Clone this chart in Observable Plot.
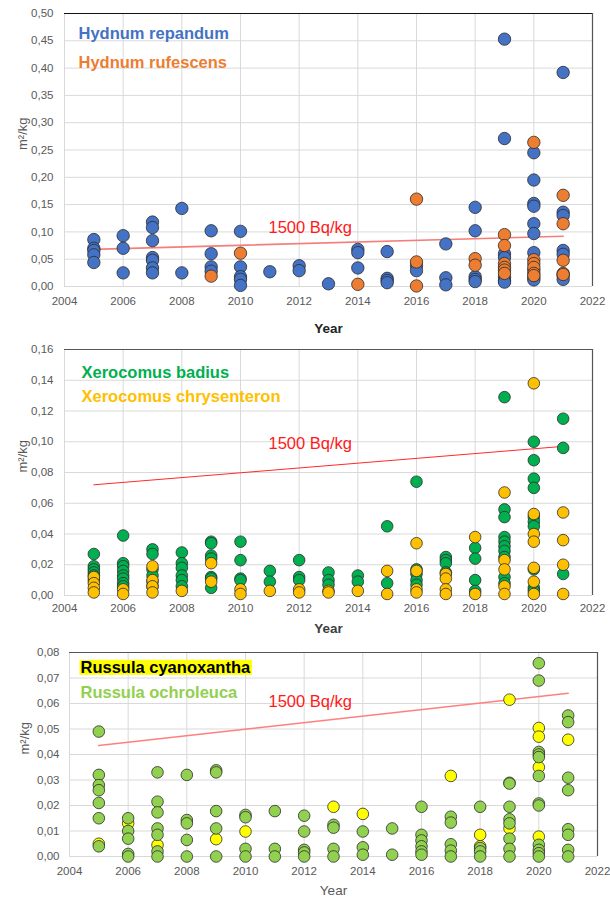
<!DOCTYPE html>
<html>
<head>
<meta charset="utf-8">
<script src="https://cdn.jsdelivr.net/npm/d3@7"></script>
<script src="https://cdn.jsdelivr.net/npm/@observablehq/plot@0.6"></script>
<style>
  html, body { margin: 0; padding: 0; background: #fff; }
  #chart svg { display: block; }
</style>
</head>
<body>
<div id="chart"></div>
<script>
// ---------- DATA ----------
const yearTicks = [2004, 2006, 2008, 2010, 2012, 2014, 2016, 2018, 2020, 2022];
const refYears = [2005, 2021];

// Panel 1: Hydnum
const hydnumRepandum = [
  [2005, [0.086, 0.070, 0.066, 0.058, 0.044]],
  [2006, [0.093, 0.070, 0.025]],
  [2007, [0.118, 0.108, 0.084, 0.053, 0.048, 0.034, 0.025]],
  [2008, [0.143, 0.025]],
  [2009, [0.102, 0.060, 0.036, 0.028]],
  [2010, [0.101, 0.036, 0.018, 0.013, 0.002]],
  [2011, [0.027]],
  [2012, [0.038, 0.029]],
  [2013, [0.005]],
  [2014, [0.068, 0.062, 0.034]],
  [2015, [0.064, 0.015, 0.011, 0.007]],
  [2016, [0.038, 0.029]],
  [2017, [0.078, 0.016, 0.003]],
  [2018, [0.145, 0.102, 0.018, 0.013, 0.009]],
  [2019, [0.453, 0.271, 0.060, 0.053, 0.017, 0.011, 0.008]],
  [2020, [0.245, 0.195, 0.152, 0.147, 0.115, 0.097, 0.062, 0.030, 0.016, 0.012]],
  [2021, [0.392, 0.136, 0.130, 0.066, 0.059, 0.020, 0.013]]
];
const hydnumRufescens = [
  [2009, [0.019]],
  [2010, [0.061]],
  [2014, [0.004]],
  [2016, [0.160, 0.045, 0.001]],
  [2018, [0.051, 0.039]],
  [2019, [0.095, 0.075, 0.042, 0.035, 0.030, 0.024]],
  [2020, [0.264, 0.049, 0.042, 0.035, 0.024, 0.020]],
  [2021, [0.167, 0.115, 0.048, 0.024, 0.022]]
];
const hydnumRef = [0.068, 0.092];

// Panel 2: Xerocomus
const xerocomusBadius = [
  [2005, [0.027, 0.019, 0.017, 0.015, 0.013, 0.010]],
  [2006, [0.039, 0.021, 0.019, 0.016, 0.013, 0.011, 0.008, 0.006]],
  [2007, [0.030, 0.027, 0.017, 0.013, 0.009, 0.006]],
  [2008, [0.028, 0.021, 0.018, 0.013, 0.010, 0.006]],
  [2009, [0.035, 0.034, 0.026, 0.024, 0.012, 0.011, 0.005]],
  [2010, [0.035, 0.023, 0.011, 0.010]],
  [2011, [0.016, 0.009]],
  [2012, [0.023, 0.012, 0.010]],
  [2013, [0.015, 0.010, 0.007]],
  [2014, [0.013, 0.009]],
  [2015, [0.045, 0.008]],
  [2016, [0.074, 0.017, 0.014, 0.010, 0.007]],
  [2017, [0.025, 0.023, 0.021, 0.015]],
  [2018, [0.031, 0.024, 0.010, 0.003]],
  [2019, [0.129, 0.056, 0.051, 0.038, 0.035, 0.032, 0.029, 0.025, 0.012, 0.008]],
  [2020, [0.100, 0.088, 0.076, 0.070, 0.051, 0.048, 0.045, 0.017, 0.005, 0.003]],
  [2021, [0.115, 0.096, 0.014]]
];
const xerocomusChrysenteron = [
  [2005, [0.012, 0.008, 0.005, 0.002]],
  [2006, [0.004, 0.001]],
  [2007, [0.019, 0.010, 0.006, 0.002]],
  [2008, [0.003]],
  [2009, [0.021, 0.009]],
  [2010, [0.004, 0.001]],
  [2011, [0.003]],
  [2012, [0.004, 0.002]],
  [2013, [0.003, 0.002]],
  [2014, [0.003]],
  [2015, [0.016, 0.001]],
  [2016, [0.034, 0.016, 0.004, 0.002]],
  [2017, [0.014, 0.011, 0.004, 0.001]],
  [2018, [0.038, 0.001]],
  [2019, [0.067, 0.023, 0.017, 0.006, 0.001]],
  [2020, [0.138, 0.053, 0.040, 0.035, 0.018, 0.009, 0.001]],
  [2021, [0.054, 0.036, 0.020, 0.001]]
];
const xerocomusRef = [0.072, 0.097];

// Panel 3: Russula
const russulaCyanoxantha = [
  [2005, [0.005]],
  [2006, [0.013]],
  [2007, [0.0045]],
  [2009, [0.0068]],
  [2010, [0.0098]],
  [2013, [0.0195]],
  [2014, [0.0167]],
  [2017, [0.0316]],
  [2018, [0.0085, 0.004]],
  [2019, [0.0615, 0.011]],
  [2020, [0.0504, 0.047, 0.035, 0.0078]],
  [2021, [0.0458]]
];
const russulaOchroleuca = [
  [2005, [0.049, 0.032, 0.028, 0.026, 0.021, 0.015, 0.004]],
  [2006, [0.015, 0.010, 0.007, 0.001, 0.000]],
  [2007, [0.033, 0.0215, 0.0173, 0.011, 0.0085, 0.002, 0.000]],
  [2008, [0.032, 0.0143, 0.013, 0.0065, 0.000]],
  [2009, [0.0338, 0.033, 0.0178, 0.011, 0.000]],
  [2010, [0.0163, 0.0154, 0.003, 0.000]],
  [2011, [0.0178, 0.003, 0.000]],
  [2012, [0.016, 0.0098, 0.0026, 0.0016, 0.000]],
  [2013, [0.0124, 0.0113, 0.003, 0.000]],
  [2014, [0.0098, 0.0036, 0.0007]],
  [2015, [0.011, 0.0007]],
  [2016, [0.0195, 0.0085, 0.0063, 0.004, 0.002, 0.0007]],
  [2017, [0.0156, 0.0133, 0.0048, 0.0023, 0.000]],
  [2018, [0.0195, 0.0033, 0.002, 0.000]],
  [2019, [0.0289, 0.0286, 0.0195, 0.0146, 0.013, 0.007, 0.003, 0.000]],
  [2020, [0.0758, 0.069, 0.041, 0.040, 0.039, 0.0316, 0.0208, 0.020, 0.0046, 0.0026, 0.0013, 0.000]],
  [2021, [0.0553, 0.0527, 0.0309, 0.026, 0.0107, 0.0085, 0.0026, 0.000]]
];
const russulaRef = [0.0435, 0.064];

const refLabel = "1500 Bq/kg";
const yLabel = "m²/kg";
const xLabel = "Year";

// ---------- HELPERS ----------
const flat = (series) => series.flatMap(([year, vals]) => vals.map(v => ({year, v})));
const refData = (vals) => refYears.map((year, i) => ({year, v: vals[i]}));
const commaFmt = (d) => d.toFixed(2).replace(".", ",");
const FONT = "'Liberation Sans', Arial, Helvetica, sans-serif";

function panel(o) {
  const yTicks = d3.range(0, o.yMax + o.yStep / 2, o.yStep);
  const marks = [
    Plot.gridY(yTicks, {stroke: "#d9d9d9", strokeOpacity: 1, strokeWidth: 1}),
    Plot.gridX(yearTicks, {stroke: "#d9d9d9", strokeOpacity: 1, strokeWidth: 1}),
    Plot.ruleY([o.yMax], {stroke: o.frameTop, strokeWidth: 1.2}),
    Plot.ruleX([2022], {stroke: "#555", strokeWidth: 1.2}),
    Plot.axisX({ticks: yearTicks, tickSize: 0, tickPadding: o.xPad, tickFormat: d => String(d),
      label: null, fill: "#595959", fontSize: 11.5}),
    Plot.axisY({ticks: yTicks, tickSize: 0, tickPadding: o.yPad, tickFormat: commaFmt,
      label: null, fill: "#595959", fontSize: 11.5}),
    Plot.text([yLabel], {frameAnchor: "left", rotate: -90, dx: o.yLabelDx, fill: "#595959",
      fontSize: 13}),
    Plot.text([xLabel], {frameAnchor: "bottom", dy: o.xLabelDy, lineAnchor: "middle",
      fill: o.xLabelColor, fontSize: 13.5, fontWeight: o.xLabelWeight}),
    Plot.line(refData(o.ref), {x: "year", y: "v", stroke: o.refStroke, strokeWidth: o.refWidth})
  ];
  for (const s of o.series) {
    marks.push(Plot.dot(flat(s.data), {x: "year", y: "v", r: o.r, fill: s.fill,
      stroke: "#2b2b2b", strokeWidth: 0.8}));
  }
  marks.push(Plot.text([refLabel], {frameAnchor: "top-left", dx: o.refDx, dy: o.refDy,
    textAnchor: "start", lineAnchor: "middle", fill: "#ff1a1a", fontSize: 16.5}));
  for (const l of o.legend) {
    marks.push(Plot.text([l.text], {frameAnchor: "top-left", dx: o.legDx, dy: l.dy,
      textAnchor: "start", lineAnchor: "middle", fill: l.color, fontSize: 16.5, fontWeight: "bold"}));
  }
  return Plot.plot({
    width: 610,
    height: o.height,
    marginTop: o.marginTop,
    marginBottom: o.marginBottom,
    marginLeft: o.marginLeft,
    marginRight: o.marginRight,
    style: {fontFamily: FONT, fontSize: "11.5px", background: "#fff", overflow: "visible"},
    x: {domain: [2004, 2022], axis: null},
    y: {domain: [0, o.yMax], axis: null},
    marks
  });
}

const chart = document.getElementById("chart");

const p1 = panel({
  height: 338, marginTop: 13, marginBottom: 52, marginLeft: 64, marginRight: 18,
  yMax: 0.5, yStep: 0.05, xPad: 10, yPad: 11, yLabelDx: -42, xLabelDy: 42,
  xLabelColor: "#222", xLabelWeight: "bold", frameTop: "#111",
  ref: hydnumRef, refStroke: "#f47f7a", refWidth: 1.6, refDx: 204, refDy: 214, r: 6.2,
  series: [{data: hydnumRepandum, fill: "#4472C4"}, {data: hydnumRufescens, fill: "#ED7D31"}],
  legDx: 14, legend: [{text: "Hydnum repandum", color: "#4472C4", dy: 20},
                      {text: "Hydnum rufescens", color: "#ED7D31", dy: 49}]
});
chart.appendChild(p1);

const p2 = panel({
  height: 300, marginTop: 11, marginBottom: 43, marginLeft: 64, marginRight: 18,
  yMax: 0.16, yStep: 0.02, xPad: 8, yPad: 11, yLabelDx: -42, xLabelDy: 33,
  xLabelColor: "#404040", xLabelWeight: "bold", frameTop: "#555",
  ref: xerocomusRef, refStroke: "#ff2a2a", refWidth: 1, refDx: 204, refDy: 94, r: 5.8,
  series: [{data: xerocomusBadius, fill: "#00B050"}, {data: xerocomusChrysenteron, fill: "#FFC000"}],
  legDx: 17, legend: [{text: "Xerocomus badius", color: "#00B050", dy: 23},
                      {text: "Xerocomus chrysenteron", color: "#FFC000", dy: 47}]
});
chart.appendChild(p2);

const p3 = panel({
  height: 259, marginTop: 14, marginBottom: 41, marginLeft: 69, marginRight: 13,
  yMax: 0.08, yStep: 0.01, xPad: 10, yPad: 10, yLabelDx: -45, xLabelDy: 34,
  xLabelColor: "#595959", xLabelWeight: "normal", frameTop: "#555",
  ref: russulaRef, refStroke: "#ff7f7f", refWidth: 1.6, refDx: 199, refDy: 49, r: 5.8,
  series: [{data: russulaCyanoxantha, fill: "#FFFF00"}, {data: russulaOchroleuca, fill: "#92D050"}],
  legDx: 11, legend: [{text: "Russula cyanoxantha", color: "#000", dy: 15},
                      {text: "Russula ochroleuca", color: "#92D050", dy: 40}]
});
chart.appendChild(p3);

// yellow highlight behind "Russula cyanoxantha" legend label
for (const t of p3.querySelectorAll("text")) {
  if (t.textContent === "Russula cyanoxantha") {
    const bb = t.getBBox();
    const rect = document.createElementNS("http://www.w3.org/2000/svg", "rect");
    const tr = t.getAttribute("transform");
    if (tr) rect.setAttribute("transform", tr);
    rect.setAttribute("x", bb.x - 1);
    rect.setAttribute("y", bb.y + 2);
    rect.setAttribute("width", bb.width + 2);
    rect.setAttribute("height", bb.height - 3);
    rect.setAttribute("fill", "#FFFF00");
    t.parentNode.insertBefore(rect, t);
  }
}
</script>
</body>
</html>
